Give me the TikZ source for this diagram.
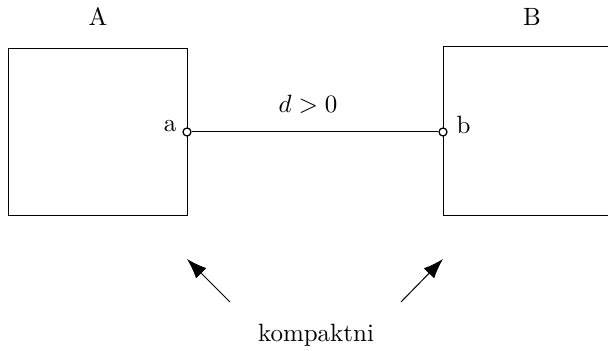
\documentclass[tikz,border=0pt]{standalone}
\usetikzlibrary{arrows.meta, positioning}

\begin{document}
\begin{tikzpicture}[
    x=0.4pt, y=-0.4pt,
    set/.style={rectangle, draw, anchor=north west, inner sep=0pt,
                minimum width=71.6pt, minimum height=66.8pt},
    pnt/.style={circle, draw, fill=white, inner sep=0pt,
                minimum size=3.2pt, line width=0.5pt},
    arrow/.style={-{Latex[length=8pt, width=5.8pt]}}
]
\useasboundingbox (0,0) rectangle (608,351);

% the two sets
\node[set] (A) at (8,48) {};
\node[set, minimum height=67.6pt] (B) at (443,46) {};
\node (labA) at (98,17) {A};
\node (labB) at (532,17) {B};

% points and distance
\node[pnt] (a) at (187,132) {};
\node[pnt] (b) at (443,132) {};
\draw (a) -- (b);
\node[left=2.2pt of a, inner sep=0pt, yshift=2.4pt] (la) {a};
\node[right=3.4pt of b, inner sep=0pt, yshift=2.8pt] (lb) {b};
\node (dist) at (308,104) {$d > 0$};

% compactness
\node (komp) at (316,335) {kompaktni};
\coordinate (s1) at (230,302);
\coordinate (t1) at (187,259);
\coordinate (s2) at (401,302);
\coordinate (t2) at (443,259);
\draw[arrow] (s1) -- (t1);
\draw[arrow] (s2) -- (t2);

\end{tikzpicture}
\end{document}
